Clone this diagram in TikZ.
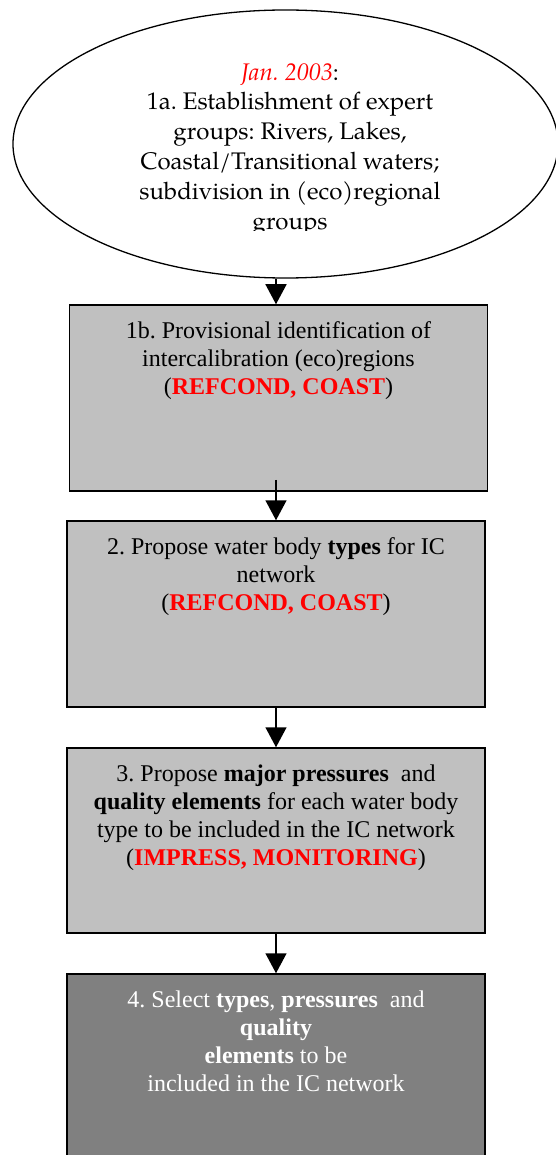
\documentclass[tikz,border=0pt]{standalone}
\usepackage{fontspec}
\setmainfont{Liberation Serif}
\newfontfamily\pal{TeX Gyre Pagella}
\usetikzlibrary{shapes.geometric,arrows.meta}
\definecolor{lgray}{HTML}{C0C0C0}
\definecolor{dgray}{HTML}{808080}
\definecolor{rd}{HTML}{FF0000}
\frenchspacing
\newcommand\boxtext[2]{\parbox[c][#1][t]{418pt}{\centering\frenchspacing\fontsize{24}{28}\selectfont\rule{0pt}{33pt}#2}}
\tikzset{
  stepbox/.style={draw=black, line width=1.5pt, rectangle, inner sep=0pt},
  arr/.style={line width=1.5pt, -{Triangle[width=21pt,length=20pt]}},
  ell/.style={draw=black, line width=1.3pt, ellipse, inner sep=0pt}
}
\begin{document}
\begin{tikzpicture}[x=1pt,y=-1pt]
\useasboundingbox (0,0) rectangle (556,1155);
\node[ell, minimum width=545pt, minimum height=268pt] (e) at (285.5,144) {};
\begin{scope}
\clip (0,0) rectangle (556,231);
\node[anchor=north, inner sep=0pt] (et) at (290,50) {\parbox{430pt}{\centering\frenchspacing\pal\fontsize{24}{29.8}\selectfont\rule{0pt}{30pt}\textcolor{rd}{\itshape Jan. 2003}:\\
1a. Establishment of expert\\
groups: Rivers, Lakes,\\
Coastal/Transitional waters;\\
subdivision in (eco)regional\\
groups}};
\end{scope}
\node[stepbox, fill=lgray] (b1) at (278.5,398) {\boxtext{186pt}{1b. Provisional identification of\\
intercalibration (eco)regions\\
(\textcolor{rd}{\bfseries REFCOND, COAST})}};
\node[stepbox, fill=lgray] (b2) at (276,614) {\boxtext{186pt}{2. Propose water body \textbf{types} for IC\\
network\\
(\textcolor{rd}{\bfseries REFCOND, COAST})}};
\node[stepbox, fill=lgray] (b3) at (276,840.5) {\boxtext{185pt}{3. Propose \textbf{major pressures}\ \ and\\
\textbf{quality elements} for each water body\\
type to be included in the IC network\\
(\textcolor{rd}{\bfseries IMPRESS, MONITORING})}};
\node[stepbox, fill=dgray, text=white] (b4) at (276,1069) {\boxtext{190pt}{4. Select \textbf{types}, \textbf{pressures}\ \ and\\
\textbf{quality}\\
\textbf{elements} to be\\
included in the IC network}};
\draw[arr] (e.south -| b2.north) -- (b1.north -| b2.north);
\draw[arr] ([yshift=12pt]b1.south -| b2.north) -- (b2.north);
\draw[arr] (b2.south) -- (b3.north);
\draw[arr] (b3.south) -- (b4.north);
\end{tikzpicture}
\end{document}
